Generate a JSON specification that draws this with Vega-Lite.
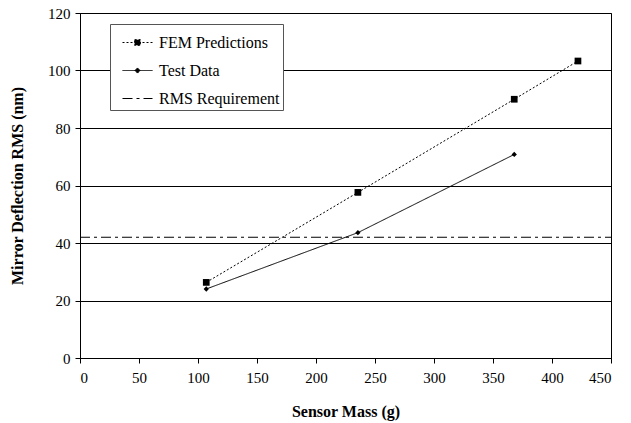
{
  "$schema": "https://vega.github.io/schema/vega-lite/v6.json",
  "width": 531,
  "height": 345,
  "autosize": {"type": "none"},
  "padding": {"left": 80, "top": 13, "right": 20, "bottom": 65},
  "background": "white",
  "config": {
    "font": "Liberation Serif",
    "view": {"stroke": "black", "strokeWidth": 1},
    "axis": {
      "domainColor": "black",
      "tickColor": "black",
      "tickSize": 5,
      "labelColor": "black",
      "labelFontSize": 15,
      "labelFont": "Liberation Serif",
      "titleFont": "Liberation Serif",
      "titleFontSize": 16,
      "titleFontWeight": "bold",
      "titleColor": "black"
    },
    "legend": {"labelFont": "Liberation Serif"}
  },
  "data": {
    "values": [
      {"series": "FEM Predictions", "mass": 107, "rms": 26.3},
      {"series": "FEM Predictions", "mass": 235.5, "rms": 57.6},
      {"series": "FEM Predictions", "mass": 368, "rms": 90.0},
      {"series": "FEM Predictions", "mass": 422, "rms": 103.3},
      {"series": "Test Data", "mass": 107, "rms": 24.0},
      {"series": "Test Data", "mass": 235.5, "rms": 43.6},
      {"series": "Test Data", "mass": 368, "rms": 70.8},
      {"series": "RMS Requirement", "mass": 0, "rms": 42},
      {"series": "RMS Requirement", "mass": 450, "rms": 42}
    ]
  },
  "encoding": {
    "x": {
      "field": "mass",
      "type": "quantitative",
      "scale": {"domain": [0, 450], "nice": false},
      "axis": {
        "title": "Sensor Mass (g)",
        "values": [0, 50, 100, 150, 200, 250, 300, 350, 400, 450],
        "grid": false,
        "labelFont": "Liberation Serif",
        "titleFont": "Liberation Serif",
        "labelPadding": 7,
        "titlePadding": 18
      }
    },
    "y": {
      "field": "rms",
      "type": "quantitative",
      "scale": {"domain": [0, 120], "nice": false},
      "axis": {
        "title": "Mirror Deflection RMS (nm)",
        "values": [0, 20, 40, 60, 80, 100, 120],
        "grid": true,
        "gridColor": "black",
        "gridOpacity": 1,
        "gridWidth": 1,
        "labelFont": "Liberation Serif",
        "titleFont": "Liberation Serif",
        "labelPadding": 5,
        "titlePadding": 22
      }
    }
  },
  "layer": [
    {
      "mark": {"type": "line", "strokeWidth": 1, "color": "black"},
      "encoding": {
        "strokeDash": {
          "field": "series",
          "type": "nominal",
          "scale": {
            "domain": ["FEM Predictions", "Test Data", "RMS Requirement"],
            "range": [[2, 2], [1, 0], [10, 4, 3, 4]]
          },
          "legend": {
            "title": null,
            "orient": "none",
            "legendX": 30,
            "legendY": 11,
            "symbolType": "stroke",
            "symbolStrokeColor": "black",
            "symbolStrokeWidth": 1,
            "symbolSize": 900,
            "labelFontSize": 16,
            "labelColor": "black",
            "labelFont": "Liberation Serif",
            "labelOffset": 6,
            "strokeColor": "#555555",
            "fillColor": "white",
            "padding": 3,
            "symbolOffset": 9,
            "rowPadding": 4,
            "encode": {
              "symbols": {
                "update": {
                  "shape": {"signal": "datum.value === 'FEM Predictions' ? 'M-1,0H1M-0.19,-0.19H0.19V0.19H-0.19Z' : datum.value === 'Test Data' ? 'M-1,0H1M0,-0.17L0.17,0L0,0.17L-0.17,0Z' : 'M-1,0H1'"},
                  "fill": {"value": "black"},
                  "fillOpacity": {"value": 1},
                  "stroke": {"value": "black"},
                  "strokeOpacity": {"value": 1},
                  "strokeWidth": {"value": 1},
                  "strokeDash": {"signal": "datum.value === 'FEM Predictions' ? [2, 2] : datum.value === 'Test Data' ? [1, 0] : [10, 4, 3, 4]"},
                  "opacity": {"value": 1}
                }
              }
            }
          }
        }
      }
    },
    {
      "transform": [{"filter": "datum.series !== 'RMS Requirement'"}],
      "mark": {"type": "point", "filled": true, "opacity": 1, "color": "black"},
      "encoding": {
        "shape": {
          "field": "series",
          "type": "nominal",
          "scale": {"domain": ["FEM Predictions", "Test Data"], "range": ["square", "diamond"]},
          "legend": null
        },
        "size": {
          "field": "series",
          "type": "nominal",
          "scale": {"domain": ["FEM Predictions", "Test Data"], "range": [45, 28]},
          "legend": null
        }
      }
    }
  ]
}
